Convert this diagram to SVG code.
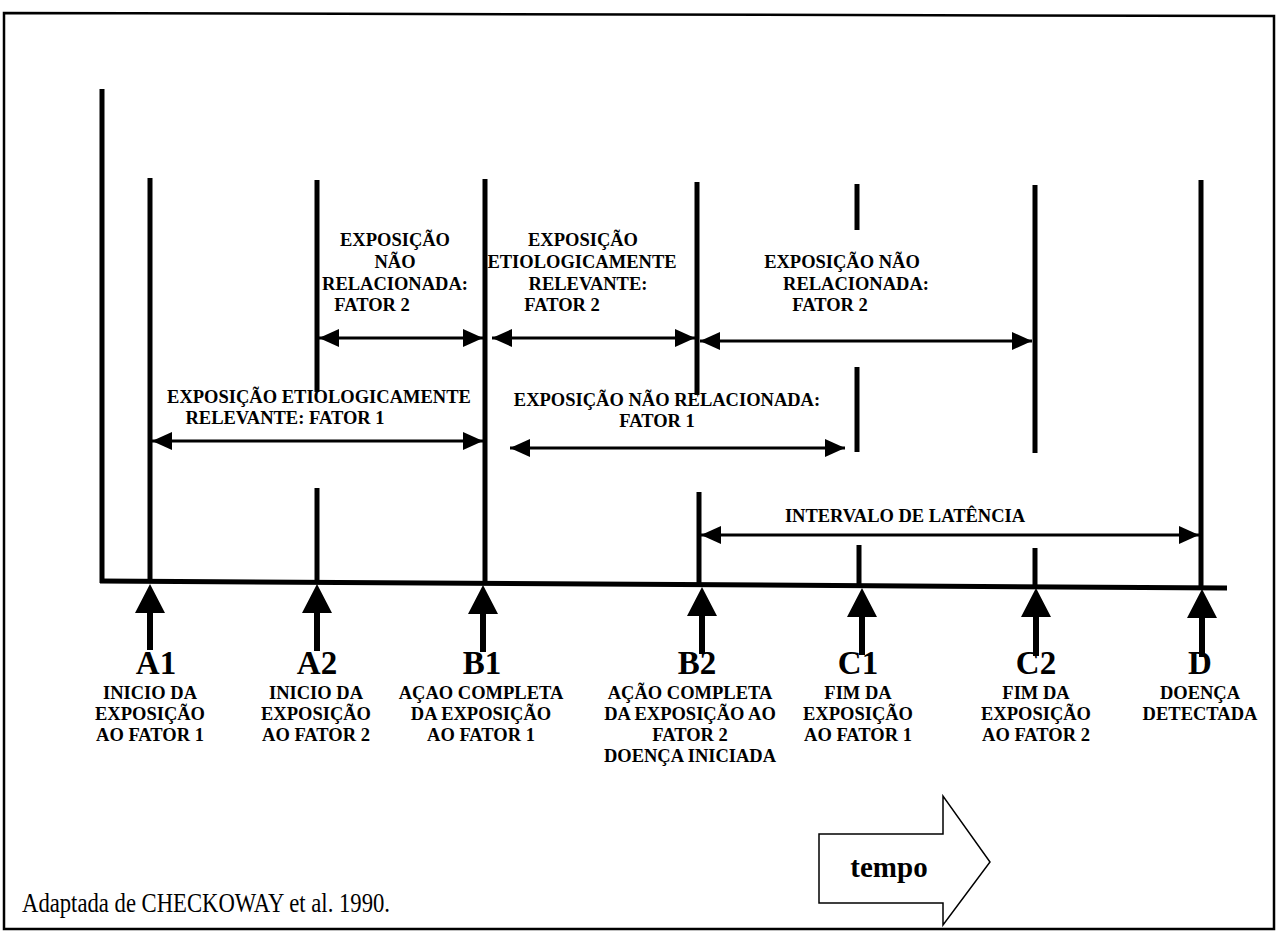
<svg xmlns="http://www.w3.org/2000/svg" width="1279" height="933" viewBox="0 0 1279 933">
<defs>
<marker id="ah" viewBox="0 0 20 18" refX="20" refY="9" markerWidth="20" markerHeight="18" markerUnits="userSpaceOnUse" orient="auto-start-reverse">
<path d="M0,0 L20,9 L0,18 z" fill="#000"/>
</marker>
<style>
.bar{stroke:#000;stroke-width:5;fill:none}
.conn{stroke:#000;stroke-width:3;fill:none;marker-start:url(#ah);marker-end:url(#ah)}
.lbl{font-family:"Liberation Serif","Times New Roman",serif;font-weight:bold;font-size:18.5px;fill:#000;text-anchor:middle}
.big{font-family:"Liberation Serif","Times New Roman",serif;font-weight:bold;font-size:33px;fill:#000;text-anchor:middle}
.up{fill:#000}
</style>
</defs>
<rect x="0" y="0" width="1279" height="933" fill="#fff"/>
<g id="frame">
<path d="M4,13 L1274,16 L1274,929 L4,929 Z" fill="none" stroke="#000" stroke-width="2.5"/>
</g>
<g id="axes">
<line class="bar" x1="102" y1="89" x2="102" y2="583"/>
<line class="bar" x1="100" y1="581" x2="1227" y2="588"/>
</g>
<g id="timelines">
<line class="bar" x1="150" y1="178" x2="150" y2="583"/>
<line class="bar" x1="317" y1="180" x2="317" y2="392"/>
<line class="bar" x1="317" y1="488" x2="317" y2="583"/>
<line class="bar" x1="485" y1="179" x2="485" y2="584"/>
<line class="bar" x1="697" y1="182" x2="697" y2="395"/>
<line class="bar" x1="699" y1="492" x2="699" y2="586"/>
<line class="bar" x1="857" y1="184" x2="857" y2="230"/>
<line class="bar" x1="857" y1="367" x2="857" y2="452"/>
<line class="bar" x1="859" y1="545" x2="859" y2="586"/>
<line class="bar" x1="1035" y1="185" x2="1035" y2="453"/>
<line class="bar" x1="1035" y1="548" x2="1035" y2="587"/>
<line class="bar" x1="1201" y1="180" x2="1201" y2="588"/>
</g>
<g id="connectors">
<line class="conn" x1="319" y1="338" x2="483" y2="338"/>
<line class="conn" x1="492" y1="338" x2="695" y2="338"/>
<line class="conn" x1="700" y1="341" x2="1032" y2="341"/>
<line class="conn" x1="152" y1="441" x2="483" y2="441"/>
<line class="conn" x1="510" y1="448" x2="845" y2="448"/>
<line class="conn" x1="701" y1="535" x2="1199" y2="535"/>
</g>
<g id="labels-upper">
<text class="lbl"><tspan x="395" y="246">EXPOSIÇÃO</tspan><tspan x="395" y="268">NÃO</tspan><tspan x="395" y="290">RELACIONADA:</tspan><tspan x="372" y="311">FATOR 2</tspan></text>
<text class="lbl"><tspan x="583" y="246">EXPOSIÇÃO</tspan><tspan x="582" y="268">ETIOLOGICAMENTE</tspan><tspan x="588" y="290">RELEVANTE:</tspan><tspan x="562" y="311">FATOR 2</tspan></text>
<text class="lbl"><tspan x="842" y="268">EXPOSIÇÃO NÃO</tspan><tspan x="856" y="290">RELACIONADA:</tspan><tspan x="830" y="311">FATOR 2</tspan></text>
<text class="lbl"><tspan x="319" y="403">EXPOSIÇÃO ETIOLOGICAMENTE</tspan><tspan x="285" y="424">RELEVANTE: FATOR 1</tspan></text>
<text class="lbl"><tspan x="667" y="406">EXPOSIÇÃO NÃO RELACIONADA:</tspan><tspan x="657" y="427">FATOR 1</tspan></text>
<text class="lbl" x="905" y="522">INTERVALO DE LATÊNCIA</text>
</g>
<g id="node-A1">
<path class="up" d="M150,584 L165,613 L153,613 L153,650 L147,650 L147,613 L135,613 Z"/>
<text class="big" x="156" y="674">A1</text>
<text class="lbl"><tspan x="150" y="699">INICIO DA</tspan><tspan x="150" y="720">EXPOSIÇÃO</tspan><tspan x="150" y="741">AO FATOR 1</tspan></text>
</g>
<g id="node-A2">
<path class="up" d="M317,584 L332,613 L320,613 L320,651 L314,651 L314,613 L302,613 Z"/>
<text class="big" x="317" y="674">A2</text>
<text class="lbl"><tspan x="316" y="699">INICIO DA</tspan><tspan x="316" y="720">EXPOSIÇÃO</tspan><tspan x="316" y="741">AO FATOR 2</tspan></text>
</g>
<g id="node-B1">
<path class="up" d="M483,585 L498,614 L486,614 L486,652 L480,652 L480,614 L468,614 Z"/>
<text class="big" x="482" y="674">B1</text>
<text class="lbl"><tspan x="481" y="699">AÇAO COMPLETA</tspan><tspan x="481" y="720">DA EXPOSIÇÃO</tspan><tspan x="481" y="741">AO FATOR 1</tspan></text>
</g>
<g id="node-B2">
<path class="up" d="M702,587 L717,616 L705,616 L705,654 L699,654 L699,616 L687,616 Z"/>
<text class="big" x="697" y="674">B2</text>
<text class="lbl"><tspan x="690" y="699">AÇÃO COMPLETA</tspan><tspan x="690" y="720">DA EXPOSIÇÃO AO</tspan><tspan x="690" y="741">FATOR 2</tspan><tspan x="690" y="762">DOENÇA INICIADA</tspan></text>
</g>
<g id="node-C1">
<path class="up" d="M862,588 L877,617 L865,617 L865,655 L859,655 L859,617 L847,617 Z"/>
<text class="big" x="858" y="674">C1</text>
<text class="lbl"><tspan x="858" y="699">FIM DA</tspan><tspan x="858" y="720">EXPOSIÇÃO</tspan><tspan x="858" y="741">AO FATOR 1</tspan></text>
</g>
<g id="node-C2">
<path class="up" d="M1036,588 L1051,617 L1039,617 L1039,656 L1033,656 L1033,617 L1021,617 Z"/>
<text class="big" x="1036" y="674">C2</text>
<text class="lbl"><tspan x="1036" y="699">FIM DA</tspan><tspan x="1036" y="720">EXPOSIÇÃO</tspan><tspan x="1036" y="741">AO FATOR 2</tspan></text>
</g>
<g id="node-D">
<path class="up" d="M1202,589 L1217,618 L1205,618 L1205,657 L1199,657 L1199,618 L1187,618 Z"/>
<text class="big" x="1200" y="674">D</text>
<text class="lbl"><tspan x="1200" y="699">DOENÇA</tspan><tspan x="1200" y="720">DETECTADA</tspan></text>
</g>
<g id="tempo">
<path d="M819,834 L943,834 L943,796 L990,862 L943,925 L943,903 L819,903 Z" fill="#fff" stroke="#000" stroke-width="1.5"/>
<text x="889" y="877" font-family="Liberation Serif, Times New Roman, serif" font-weight="bold" font-size="29" text-anchor="middle">tempo</text>
</g>
<g id="source">
<text x="22" y="912" font-family="Liberation Serif, Times New Roman, serif" font-size="28" textLength="368" lengthAdjust="spacingAndGlyphs">Adaptada de CHECKOWAY et al. 1990.</text>
</g>
</svg>
